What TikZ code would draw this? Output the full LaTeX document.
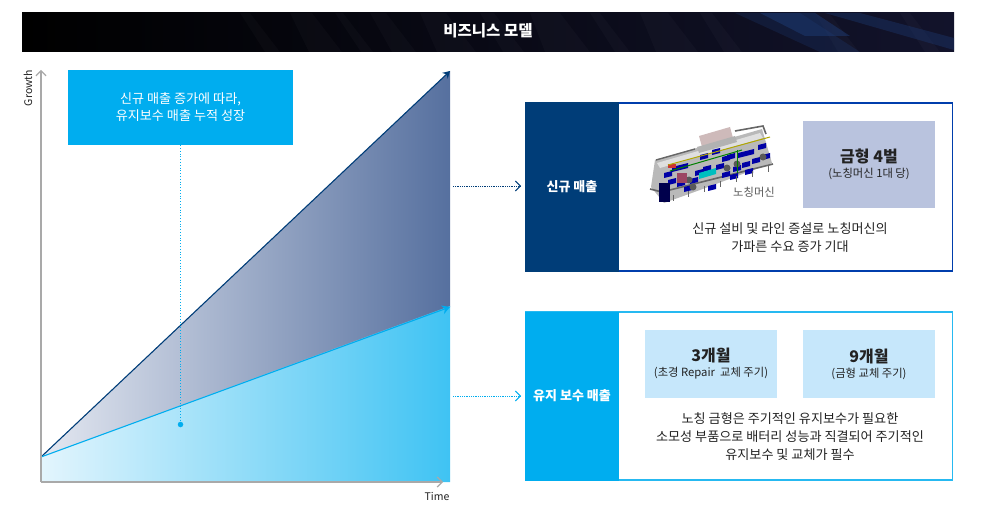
\documentclass[tikz,border=0pt]{standalone}
\usepackage{fontspec}
\setmainfont{Noto Sans CJK KR}
\usepackage{tikz}
\usetikzlibrary{arrows.meta,positioning}
\definecolor{navy}{HTML}{003D78}
\definecolor{sky}{HTML}{00ADEF}
\definecolor{axisgray}{HTML}{A9A9A9}
\definecolor{moldfill}{HTML}{B9C3DE}
\definecolor{cyclefill}{HTML}{C6E7FB}
\definecolor{textdark}{HTML}{222222}
\definecolor{barend}{HTML}{12132B}
\definecolor{streak}{HTML}{1E3F7C}
\definecolor{upperleft}{HTML}{E4E8F1}
\definecolor{upperright}{HTML}{56709F}
\definecolor{lowerleft}{HTML}{E3F5FD}
\definecolor{lowerright}{HTML}{3FC3F3}
\newcommand{\bigline}{\fontsize{16}{19}\selectfont\bfseries}
\newcommand{\smallline}{\fontsize{11.3}{14}\selectfont}
\tikzset{
	headbox/.style={minimum width=94pt,minimum height=169pt,text=white,font=\fontsize{13}{15}\selectfont\bfseries,inner sep=0pt},
	framebox/.style={draw=#1,line width=1.3pt,minimum width=427pt,minimum height=168pt,inner sep=0pt},
	infobox/.style={fill=#1,minimum width=132pt,inner sep=0pt,align=center,text=textdark},
	bodytext/.style={font=\fontsize{13.1}{18}\selectfont,align=center,text=textdark,inner sep=0pt},
	axisarrow/.style={draw=axisgray,line width=1.2pt,-{Straight Barb[length=5pt,width=10pt]}},
	linkarrow/.style={dash pattern=on 1pt off 0.8pt,line width=0.9pt,-{Straight Barb[length=5pt,width=10pt,line width=0.9pt,sep=0pt]}}
}
\begin{document}
\begin{tikzpicture}[x=1pt,y=-1pt]
	\useasboundingbox (0,0) rectangle (985,516);

	% title bar
	\shade[left color=black,right color=barend] (22,13) rectangle (954,52);
	\foreach \x/\w in {240/10,290/22,335/8,370/16,420/26,480/14,530/30,590/10,640/28,700/12,815/14,900/10}
		\fill[white,opacity=0.025] (\x,13) -- (\x+\w,13) -- (\x+\w+30,52) -- (\x+30-\w/2,52) -- cycle;
	\fill[streak,opacity=0.25] (735,13) -- (800,13) -- (860,52) -- (820,52) -- cycle;
	\fill[streak,opacity=0.45] (760,13) -- (815,13) -- (850,36) -- (805,36) -- cycle;
	\fill[streak,opacity=0.35] (825,13) -- (860,13) -- (954,38) -- (954,50) -- cycle;
	\node[text=white,font=\fontsize{15.5}{18}\selectfont\bfseries] (title) at (488,31) {비즈니스 모델};

	% growth areas
	\shade[left color=upperleft,right color=upperright] (41,457) -- (450,71) -- (450,307) -- cycle;
	\shade[left color=lowerleft,right color=lowerright] (41,457) -- (450,306) -- (450,482) -- (41,482) -- cycle;
	\coordinate (origin) at (41,482);
	\coordinate (topend) at (41,70);
	\coordinate (rightend) at (443,482);
	\coordinate (start) at (41,457);
	\coordinate (newend) at (450,71);
	\coordinate (serviceend) at (450,307);
	\draw[navy,line width=1.1pt,-{Stealth[length=7pt,width=8pt]}] (start) -- (newend);
	\draw[sky,line width=1.1pt,-{Stealth[length=8pt,width=9pt]}] (start) -- (serviceend);
	\draw[axisarrow] (origin) -- (topend);
	\draw[axisarrow] (origin) -- (rightend);
	\node[rotate=90,font=\fontsize{10.5}{12}\selectfont,text=textdark] (growth) at (28,88) {Growth};
	\node[font=\fontsize{10.5}{12}\selectfont,text=textdark] (time) at (437,496) {Time};

	% callout
	\node[fill=sky,minimum width=225pt,minimum height=75pt,text=white,align=center,font=\fontsize{13.1}{17}\selectfont,inner sep=0pt] (callout) at (180.5,107.5) {신규 매출 증가에 따라,\\유지보수 매출 누적 성장};
	\node[circle,fill=sky,minimum size=5.5pt,inner sep=0pt] (dot) at (180.5,424.5) {};
	\draw[sky,dotted,line width=0.8pt] (callout) -- (dot);

	% new sales panel
	\node[framebox=navy!70!blue!85!sky] (newframe) at (739,187) {};
	\node[headbox,fill=navy] (newhead) at (572,187) {신규 매출};
	\node[infobox=moldfill,minimum height=87pt] (moldbox) at (869,164.5) {{\bigline 금형 4벌}\\[3pt]{\smallline (노칭머신 1대 당)}};
	\node[bodytext] (newtext) at (790,237.5) {신규 설비 및 라인 증설로 노칭머신의\\가파른 수요 증가 기대};

	% machine
	\fill[gray!55] (651,187) -- (655,160) -- (762,129) -- (772,163) -- (700,190) -- (664,203) -- cycle;
	\fill[gray!25] (657,163) -- (760,133) -- (763,138) -- (660,168) -- cycle;
	\fill[pink!45!gray!70] (699,136) -- (730,127) -- (733,138) -- (702,147) -- cycle;
	\fill[gray!60] (697,147) -- (735,136) -- (737,142) -- (699,153) -- cycle;
	\draw[gray!80!black,line width=1.4pt] (656,160) -- (695,149);
	\draw[gray!80!black,line width=1.6pt] (735,131) -- (763,126) -- (766,134);
	\draw[gray!80!black,line width=1.6pt] (650,189) -- (662,192) -- (773,164);
	\foreach \x/\y in {664/178,668/185,672/172,677/187,684/192,690/184,695/176,703/172,708/191,716/170,722/178,727/160,733/172,738/158,742/168,746/156,752/164,758/150,762/160,700/160,712/155,722/162,680/170,745/175,730/180}
		\fill[blue!65!black] (\x,\y) -- ++(8,-2) -- ++(0,-5) -- ++(-8,2) -- cycle;
	\foreach \x/\y in {689/180,693/187,737/164,763/157,727/168}
		\fill[black!65] (\x,\y) circle (3.5);
	\foreach \x/\y in {673/201,688/197,704/192,720/187,736/182,752/177,768/172}
		\draw[gray!80!black,line width=1pt] (\x,\y-6) -- (\x,\y);
	\fill[purple!45!gray] (677,173) rectangle (687,183);
	\fill[red!60!gray] (668,164) rectangle (676,168);
	\draw[olive!70!yellow,line width=1pt] (668,165) -- (770,137);
	\draw[green!50!black,line width=1pt] (670,171) -- (742,150);
	\draw[green!50!black,line width=0.8pt] (737,150) -- (737,173);
	\fill[teal!50!cyan] (699,173) -- (716,168) -- (716,174) -- (699,179) -- cycle;
	\fill[black!70!blue] (659,183) rectangle (670,202);
	\node[font=\fontsize{11.3}{13}\selectfont,text=black!65] (machine) at (754,192) {노칭머신};

	% service sales panel
	\node[framebox=sky!85!white] (serviceframe) at (739,396) {};
	\node[headbox,fill=sky] (servicehead) at (572,396) {유지 보수 매출};
	\node[infobox=cyclefill,minimum height=68pt] (repairbox) at (711,364) {{\bigline 3개월}\\[3pt]{\smallline (초경 Repair\ \ 교체 주기)}};
	\node[infobox=cyclefill,minimum height=68pt] (moldcycle) at (869,364) {{\bigline 9개월}\\[3pt]{\smallline (금형 교체 주기)}};
	\node[bodytext] (servicetext) at (790,436.5) {노칭 금형은 주기적인 유지보수가 필요한\\소모성 부품으로 배터리 성능과 직결되어 주기적인\\유지보수 및 교체가 필수};

	% links from chart to panels
	\coordinate (newlink) at (453,186);
	\coordinate (servicelink) at (453,396);
	\coordinate (newtip) at (521,186);
	\coordinate (servicetip) at (521,396);
	\draw[linkarrow,navy] (newlink) -- (newtip);
	\draw[linkarrow,sky] (servicelink) -- (servicetip);

\end{tikzpicture}
\end{document}
